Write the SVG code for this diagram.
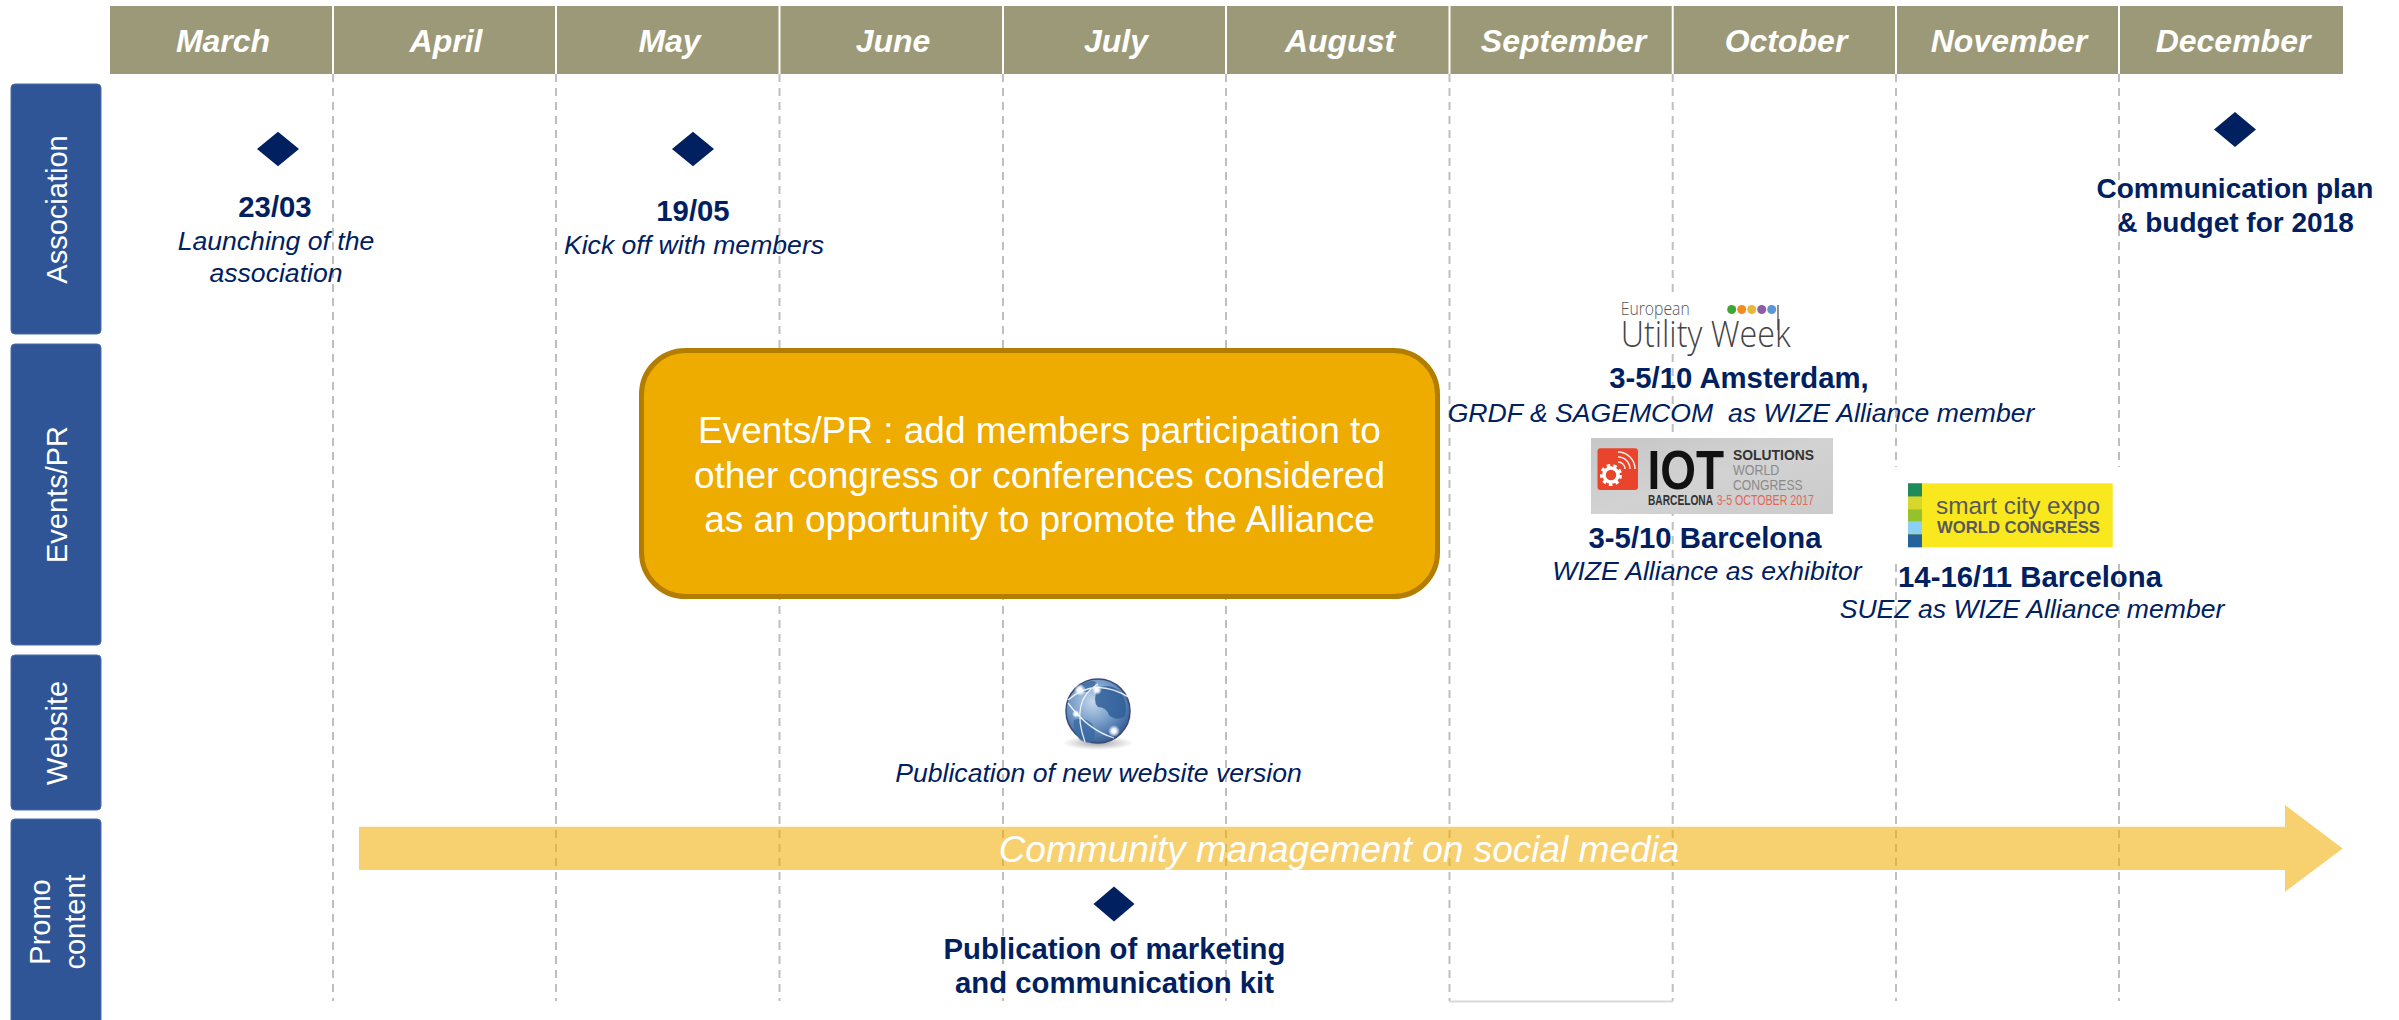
<svg xmlns="http://www.w3.org/2000/svg" width="2399" height="1020" viewBox="0 0 2399 1020">
<style>
text{font-family:"Liberation Sans",Arial,sans-serif}
.month{font-size:32px;font-weight:700;font-style:italic;fill:#fff;text-anchor:middle}
.side{font-size:29px;fill:#fff;text-anchor:middle}
.sb{fill:#2F5597;stroke:#4A6CAB;stroke-width:1}
.b{font-size:29.300px;font-weight:700;fill:#002060;text-anchor:middle}
.b2{font-size:28px;font-weight:700;fill:#002060;text-anchor:middle}
.i{font-size:26.600px;font-style:italic;fill:#002060;text-anchor:middle;white-space:pre}
.dm{fill:#002060}
.grid{stroke:#BFBFBF;stroke-width:2;stroke-dasharray:8 6;fill:none}
.sep{stroke:#fff;stroke-width:2}
.cw{font-size:37px;fill:#fff;text-anchor:middle}
</style>
<defs>
<radialGradient id="gl" cx="0.42" cy="0.35" r="0.7"><stop offset="0" stop-color="#C5D8EC"/><stop offset="0.55" stop-color="#6D96C4"/><stop offset="1" stop-color="#2F5590"/></radialGradient>
<radialGradient id="sh"><stop offset="0" stop-color="#888" stop-opacity=".8"/><stop offset="1" stop-color="#999" stop-opacity="0"/></radialGradient>
<radialGradient id="gw"><stop offset="0" stop-color="#fff"/><stop offset=".4" stop-color="#fff" stop-opacity=".9"/><stop offset="1" stop-color="#fff" stop-opacity="0"/></radialGradient>
<linearGradient id="iotbg" x1="0" y1="0" x2="1" y2="1"><stop offset="0" stop-color="#C6C6C6"/><stop offset=".5" stop-color="#D2D2D2"/><stop offset="1" stop-color="#CBCBCB"/></linearGradient>
</defs>

<g id="connectors">
<path class="grid" d="M333 74V1001M556 74V1001M779.500 74V1001M1003 74V1001M1226 74V1001M1449.500 74V1001M1672.700 74V1001M1896 74V1001M2119 74V1001"/>
<path d="M1449 1001.500H1673" stroke="#D9D9D9" stroke-width="2" fill="none"/>
</g>

<g id="timeline-header">
<rect x="110" y="6" width="2233" height="68" fill="#9B9977"/>
<path class="sep" d="M333 6V74M556 6V74M779.500 6V74M1003 6V74M1226 6V74M1449.500 6V74M1672.700 6V74M1896 6V74M2119 6V74"/>
<text class="month" x="223" y="52">March</text>
<text class="month" x="446" y="52">April</text>
<text class="month" x="669.500" y="52">May</text>
<text class="month" x="893" y="52">June</text>
<text class="month" x="1116" y="52">July</text>
<text class="month" x="1340" y="52">August</text>
<text class="month" x="1563.500" y="52">September</text>
<text class="month" x="1786" y="52">October</text>
<text class="month" x="2009" y="52">November</text>
<text class="month" x="2233" y="52">December</text>
</g>

<g id="lane-association"><rect class="sb" x="11" y="84" width="90" height="250" rx="4"/><text class="side" transform="translate(67 209.500) rotate(-90)">Association</text></g>
<g id="lane-events"><rect class="sb" x="11" y="344" width="90" height="301" rx="4"/><text class="side" transform="translate(67 494.500) rotate(-90)">Events/PR</text></g>
<g id="lane-website"><rect class="sb" x="11" y="655" width="90" height="155" rx="4"/><text class="side" transform="translate(67 733) rotate(-90)">Website</text></g>
<g id="lane-promo"><rect class="sb" x="11" y="819" width="90" height="210" rx="4"/><text class="side" transform="translate(50 922) rotate(-90)">Promo</text><text class="side" transform="translate(85 922) rotate(-90)">content</text></g>

<g id="milestone-march">
<path class="dm" d="M278 131.700L299 149L278 166.300L257 149Z"/>
<text class="b" x="275" y="217">23/03</text>
<text class="i" x="276" y="250">Launching of the</text>
<text class="i" x="276" y="282">association</text>
</g>
<g id="milestone-may">
<path class="dm" d="M693 131.700L714 149L693 166.300L672 149Z"/>
<text class="b" x="693" y="221">19/05</text>
<text class="i" x="694" y="254">Kick off with members</text>
</g>
<g id="milestone-december">
<path class="dm" d="M2235 112L2256 129.500L2235 147L2214 129.500Z"/>
<text class="b2" x="2235" y="198">Communication plan</text>
<text class="b2" x="2235.500" y="232">&amp; budget for 2018</text>
</g>

<g id="events-note">
<rect x="641.500" y="350.500" width="796" height="246" rx="44" fill="#EEAB00" stroke="#B27D00" stroke-width="5"/>
<text class="cw" x="1039.500" y="443">Events/PR : add members participation to</text>
<text class="cw" x="1039.500" y="487.500">other congress or conferences considered</text>
<text class="cw" x="1039.500" y="531.500">as an opportunity to promote the Alliance</text>
</g>

<g id="event-utility-week">
<rect x="1612" y="292" width="190" height="61" fill="#fff"/>
<text x="1620.700" y="315" font-size="18" textLength="69" lengthAdjust="spacingAndGlyphs" fill="#555" style="font-family:'Open Sans','Liberation Sans',sans-serif;font-weight:300">European</text>
<text x="1620.700" y="346.500" font-size="36" textLength="170" lengthAdjust="spacingAndGlyphs" fill="#444" style="font-family:'Open Sans','Liberation Sans',sans-serif;font-weight:300">Utility Week</text>
<path d="M1778 305V330" stroke="#444" stroke-width="1.200"/>
<circle cx="1731.700" cy="309.500" r="4.500" fill="#3FA535"/><circle cx="1741.700" cy="309.500" r="4.500" fill="#F28C1E"/><circle cx="1751.700" cy="309.500" r="4.500" fill="#E7B83A"/><circle cx="1761.700" cy="309.500" r="4.500" fill="#8C5CA8"/><circle cx="1771.700" cy="309.500" r="4.500" fill="#5B95D6"/>
<text class="b" x="1739" y="388">3-5/10 Amsterdam,</text>
<text class="i" x="1741" y="421.500">GRDF &amp; SAGEMCOM  as WIZE Alliance member</text>
</g>

<g id="event-iot">
<rect x="1591" y="438" width="242" height="76" fill="url(#iotbg)"/>
<rect x="1597.500" y="448.300" width="40.500" height="41.700" rx="3" fill="#E8452C"/>
<circle cx="1611" cy="475" r="7" fill="none" stroke="#fff" stroke-width="3.500"/>
<circle cx="1611" cy="475" r="9.500" fill="none" stroke="#fff" stroke-width="3" stroke-dasharray="3.500 3.200"/>
<path d="M1618 462a7 7 0 0 1 7 7M1618 457a12 12 0 0 1 12 12M1618 452a17 17 0 0 1 17 17" fill="none" stroke="#fff" stroke-width="1.500" opacity=".9"/>
<text x="1647.400" y="489" font-size="56" font-weight="700" textLength="76.600" lengthAdjust="spacingAndGlyphs" fill="#111">IOT</text>
<text x="1733" y="460" font-size="15.500" font-weight="700" textLength="81" lengthAdjust="spacingAndGlyphs" fill="#333">SOLUTIONS</text>
<text x="1733" y="475" font-size="15.500" textLength="46.300" lengthAdjust="spacingAndGlyphs" fill="#8A8A8A">WORLD</text>
<text x="1733" y="490" font-size="15.500" textLength="69.700" lengthAdjust="spacingAndGlyphs" fill="#8A8A8A">CONGRESS</text>
<text x="1648" y="505" font-size="14.500" font-weight="700" textLength="65" lengthAdjust="spacingAndGlyphs" fill="#333">BARCELONA</text>
<text x="1716.700" y="505" font-size="14.500" textLength="97.300" lengthAdjust="spacingAndGlyphs" fill="#E0685A">3-5 OCTOBER 2017</text>
<text class="b" x="1705" y="548">3-5/10 Barcelona</text>
<text class="i" x="1707" y="580">WIZE Alliance as exhibitor</text>
</g>

<g id="event-smart-city">
<rect x="1888" y="467" width="236" height="96" fill="#fff"/>
<rect x="1908" y="483.300" width="204.700" height="64" fill="#FAE81E"/>
<rect x="1908" y="483.300" width="14" height="13.400" fill="#1F8A5B"/>
<rect x="1908" y="496.700" width="14" height="12.600" fill="#D5D72B"/>
<rect x="1908" y="509.300" width="14" height="12.400" fill="#95C12B"/>
<rect x="1908" y="521.700" width="14" height="12.600" fill="#8BD0EE"/>
<rect x="1908" y="534.300" width="14" height="13" fill="#23649C"/>
<text x="1936" y="514" font-size="24.500" textLength="164" lengthAdjust="spacingAndGlyphs" fill="#58585A">smart city expo</text>
<text x="1937" y="533" font-size="17" font-weight="700" textLength="163" lengthAdjust="spacingAndGlyphs" fill="#58585A">WORLD CONGRESS</text>
<text class="b" x="2030" y="587">14-16/11 Barcelona</text>
<text class="i" x="2032" y="618">SUEZ as WIZE Alliance member</text>
</g>

<g id="website-publication">
<ellipse cx="1098" cy="743" rx="36" ry="7" fill="url(#sh)"/>
<circle cx="1098" cy="711" r="32" fill="url(#gl)" stroke="#3C4A78" stroke-width="1.500"/>
<path d="M1098 688q14-6 24 6q6 10 3 22q-8 6-16-1q-3-8-11-8q-6-6 0-19Z" fill="#2F5E98" opacity=".85"/>
<path d="M1074 720q10-4 18 4q6 8 0 18q-6 2-12-2q-8-10-6-20Z" fill="#3A6AA4" opacity=".8"/>
<path d="M1082 684q10-5 14-2q-2 8-10 10q-6 0-4-8Z" fill="#33629C" opacity=".75"/>
<path d="M1068 700Q1095 676 1130 698M1068 703Q1088 730 1114 738M1098 684Q1070 700 1085 742" fill="none" stroke="#fff" stroke-width="1.300" opacity=".85"/>
<circle cx="1114" cy="731" r="6" fill="url(#gw)"/><circle cx="1080" cy="690" r="6" fill="url(#gw)"/><circle cx="1097" cy="690" r="5" fill="url(#gw)"/><circle cx="1076" cy="714" r="4" fill="url(#gw)"/>
<text class="i" x="1098.500" y="781.500">Publication of new website version</text>
</g>

<g id="community-arrow">
<path d="M359 826.700H2285V805L2342.700 848.500L2285 891.700V870H359Z" fill="#F0AB00" opacity=".56"/>
<text x="1339" y="861.500" font-size="37" font-style="italic" fill="#fff" text-anchor="middle">Community management on social media</text>
</g>

<g id="promo-kit">
<path class="dm" d="M1114 886.500L1134.500 904L1114 921.500L1093.500 904Z"/>
<text class="b" x="1114.500" y="959">Publication of marketing</text>
<text class="b" x="1114.500" y="993">and communication kit</text>
</g>
</svg>
